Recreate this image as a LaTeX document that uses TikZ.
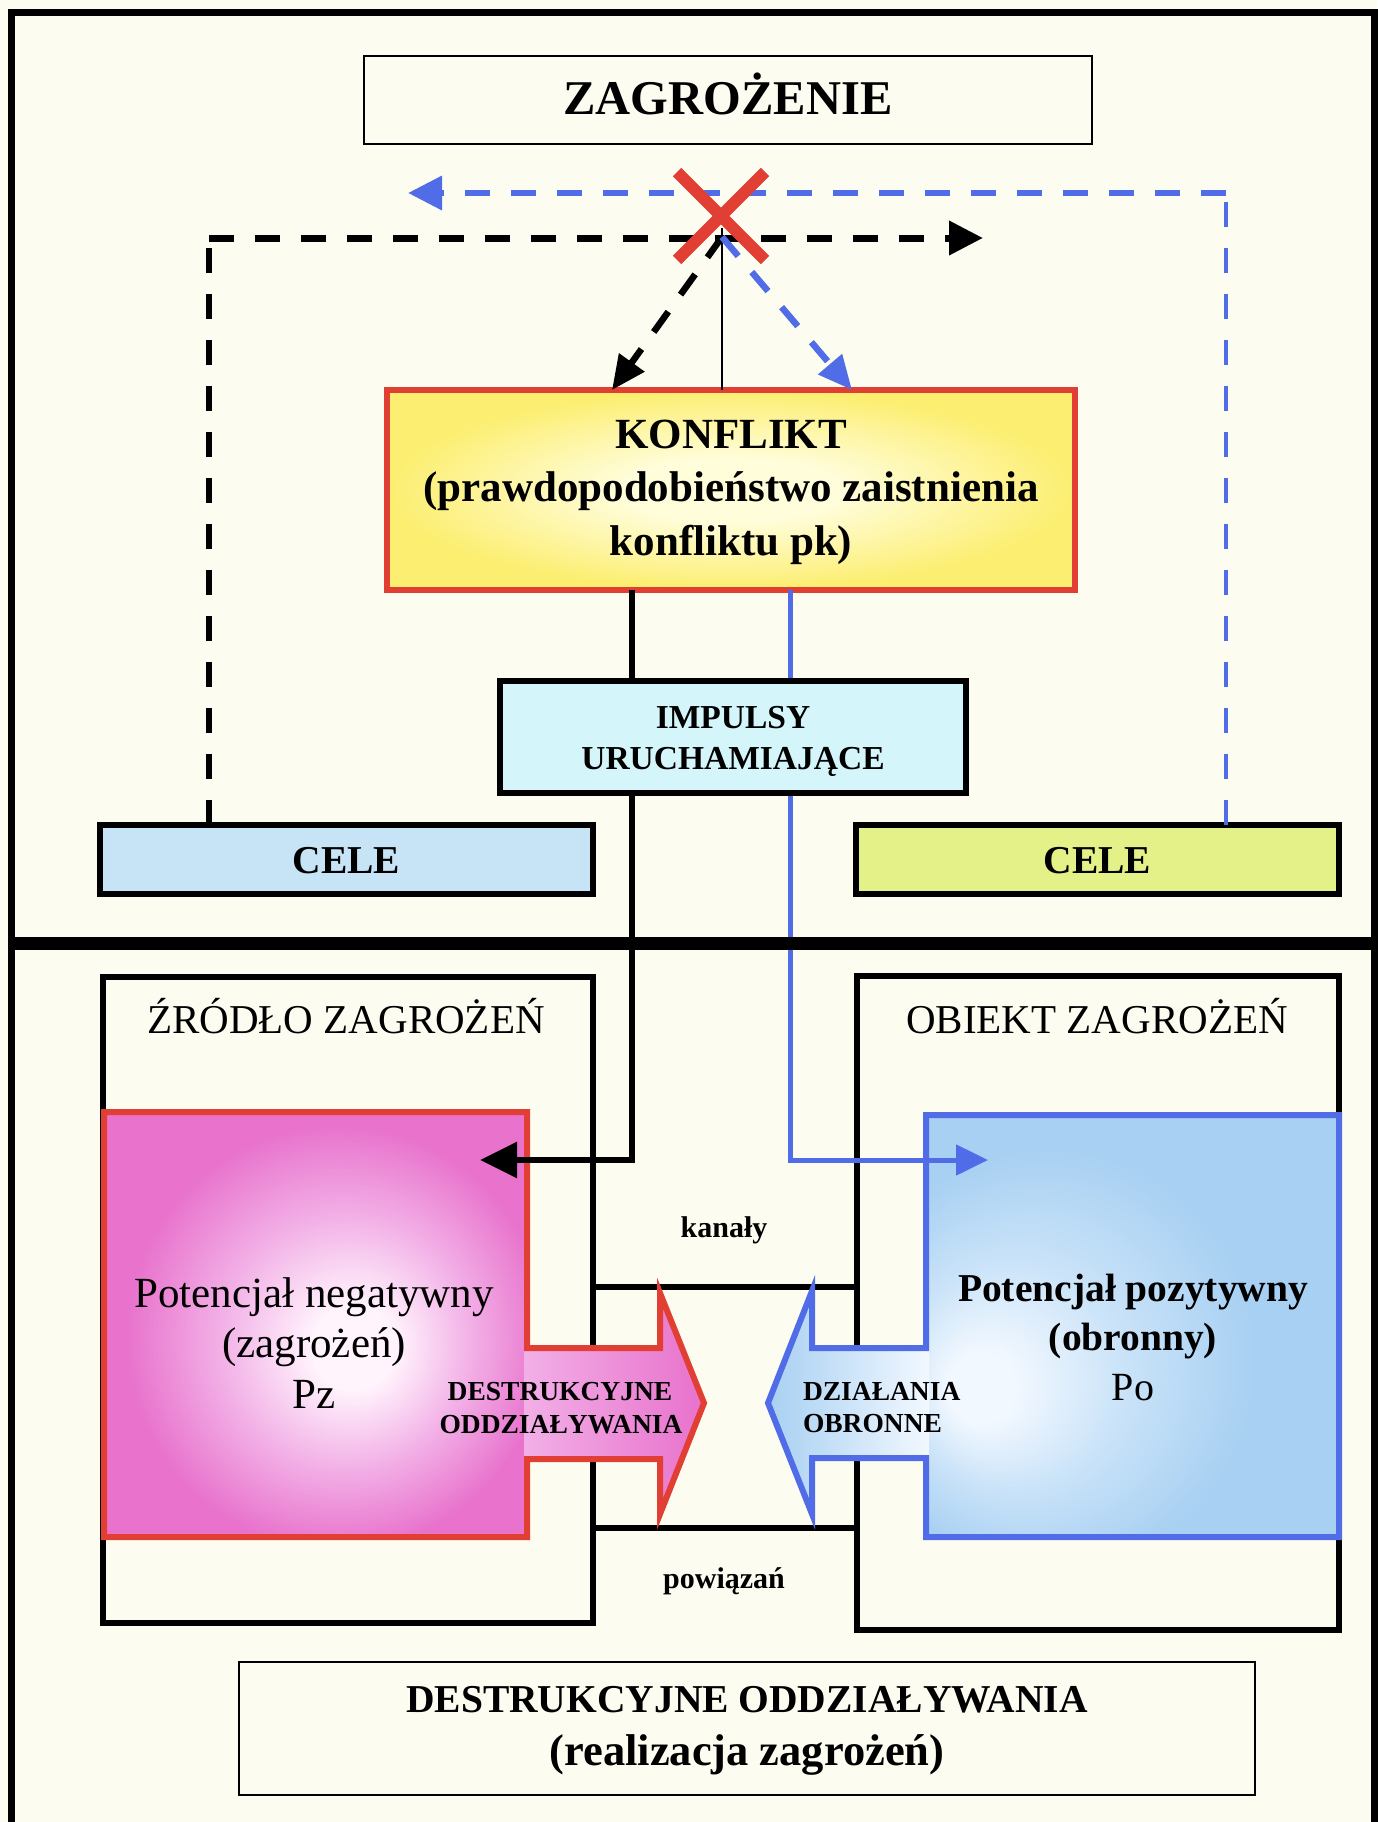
\documentclass[tikz,border=0pt]{standalone}
\usepackage{fontspec}
\setmainfont{Liberation Serif}
\usetikzlibrary{arrows.meta}
\definecolor{bgc}{RGB}{252,252,240}
\definecolor{redc}{RGB}{225,62,52}
\definecolor{bluec}{RGB}{80,108,230}
\definecolor{pinkE}{RGB}{232,114,204}
\definecolor{pinkM}{RGB}{242,175,230}
\definecolor{pinkC}{RGB}{255,243,252}
\definecolor{blueE}{RGB}{168,208,242}
\definecolor{blueM}{RGB}{200,226,248}
\definecolor{blueC}{RGB}{242,248,255}
\definecolor{yelE}{RGB}{252,238,112}
\definecolor{yelC}{RGB}{255,253,218}
\definecolor{impc}{RGB}{212,245,249}
\definecolor{celeLc}{RGB}{198,228,246}
\definecolor{celeRc}{RGB}{228,240,136}
\pgfdeclareradialshading{pinkrad}{\pgfpoint{5bp}{-3bp}}{color(0bp)=(pinkC); color(5bp)=(pinkC); color(15bp)=(pinkM); color(25bp)=(pinkE); color(50bp)=(pinkE)}
\pgfdeclareradialshading{bluerad}{\pgfpoint{-20bp}{-8bp}}{color(0bp)=(blueC); color(4bp)=(blueC); color(14bp)=(blueM); color(25bp)=(blueE); color(50bp)=(blueE)}
\pgfdeclareradialshading{yelrad}{\pgfpoint{0bp}{0bp}}{color(0bp)=(yelC); color(8bp)=(yelC); color(25bp)=(yelE); color(50bp)=(yelE)}
\newcommand\myfs[2]{\fontsize{#1}{#2}\selectfont}
\begin{document}
\begin{tikzpicture}[x=1pt,y=-1pt,
  box/.style={inner sep=0pt, outer sep=0pt},
  txt/.style={anchor=base, inner sep=0pt, outer sep=0pt, text=black},
  bigbold/.style={font=\bfseries\myfs{43}{50}},
  bdash/.style={draw=black, dash pattern=on 25pt off 21pt},
  ldash/.style={draw=bluec, dash pattern=on 25pt off 21pt},
  tiph/.style={-{Triangle[length=34pt,width=33pt]}},
  tipd/.style={-{Triangle[length=34pt,width=30pt]}},
  chan/.style={draw=black, line width=6pt},
]
\useasboundingbox (0,0) rectangle (1377,1822);
\fill[bgc] (0,0) rectangle (1377,1822);

% lower part: outer boxes and channel
\node[box, draw=black, line width=6.5pt, minimum width=490pt, minimum height=646pt] (zrodlo) at (348,1300) {};
\node[box, draw=black, line width=6.5pt, minimum width=482pt, minimum height=654pt] (obiekt) at (1098,1303) {};
\draw[chan] (zrodlo.east |- 0,1287) -- (obiekt.west |- 0,1287);
\draw[chan] (zrodlo.east |- 0,1528) -- (obiekt.west |- 0,1528);
\node[txt, font=\myfs{41}{46}] (tzrodlo) at (346,1033) {ŹRÓDŁO ZAGROŻEŃ};
\node[txt, font=\myfs{41}{46}] (tobiekt) at (1097,1033) {OBIEKT ZAGROŻEŃ};
\node[txt, font=\bfseries\myfs{30}{34}] (tkanaly) at (724,1237) {kanały};
\node[txt, font=\bfseries\myfs{30}{34}] (tpowiazan) at (724,1588) {powiązań};

% pink shape (negative potential) with arrow
\fill[pinkE] (104,1112) -- (527,1112) -- (527,1348) -- (660,1348) -- (660,1293) -- (704,1403) -- (660,1514) -- (660,1459) -- (527,1459) -- (527,1537) -- (104,1537) -- cycle;
\shade[shading=pinkrad] (104,1112) rectangle (527,1537);
\shade[left color=pinkM, middle color=pinkC, right color=pinkE] (524,1348) -- (660,1348) -- (660,1293) -- (704,1403) -- (660,1514) -- (660,1459) -- (524,1459) -- cycle;
\draw[redc, line width=6pt] (104,1112) -- (527,1112) -- (527,1348) -- (660,1348) -- (660,1293) -- (704,1403) -- (660,1514) -- (660,1459) -- (527,1459) -- (527,1537) -- (104,1537) -- cycle;
\coordinate (pinktip) at (480,1160);

% blue shape (positive potential) with arrow
\fill[blueE] (1339,1115) -- (926,1115) -- (926,1348) -- (812,1348) -- (812,1291) -- (768,1403) -- (812,1514) -- (812,1458) -- (926,1458) -- (926,1537) -- (1339,1537) -- cycle;
\shade[shading=bluerad] (926,1115) rectangle (1339,1537);
\shade[left color=blueE, middle color=blueM, right color=blueC] (929,1348) -- (812,1348) -- (812,1291) -- (768,1403) -- (812,1514) -- (812,1458) -- (929,1458) -- cycle;
\draw[bluec, line width=6pt] (1339,1115) -- (926,1115) -- (926,1348) -- (812,1348) -- (812,1291) -- (768,1403) -- (812,1514) -- (812,1458) -- (926,1458) -- (926,1537) -- (1339,1537) -- cycle;
\coordinate (bluetip) at (988,1160);

\node[txt, font=\myfs{43}{50}] (tneg1) at (314,1307) {Potencjał negatywny};
\node[txt, font=\myfs{43}{50}] (tneg2) at (314,1357) {(zagrożeń)};
\node[txt, font=\myfs{43}{50}] (tneg3) at (314,1408) {Pz};
\node[txt, font=\bfseries\myfs{39.5}{46}] (tpoz1) at (1133,1301) {Potencjał pozytywny};
\node[txt, font=\bfseries\myfs{39.5}{46}] (tpoz2) at (1133,1350) {(obronny)};
\node[txt, font=\myfs{40}{46}] (tpoz3) at (1133,1400) {Po};
\node[txt, font=\bfseries\myfs{27.5}{32}] (tdes1) at (560,1400) {DESTRUKCYJNE};
\node[txt, font=\bfseries\myfs{27.5}{32}] (tdes2) at (561,1433) {ODDZIAŁYWANIA};
\node[txt, anchor=base west, font=\bfseries\myfs{27.5}{32}] (tdzi1) at (803,1400) {DZIAŁANIA};
\node[txt, anchor=base west, font=\bfseries\myfs{27.5}{32}] (tdzi2) at (803,1432) {OBRONNE};

% upper boxes
\node[box, draw=black, line width=2.5pt, fill=bgc, minimum width=728pt, minimum height=88pt] (zag) at (728,100) {};
\node[txt, font=\bfseries\myfs{48.5}{56}] (tzag) at (728,115) {ZAGROŻENIE};
\node[box, draw=redc, line width=6pt, shading=yelrad, minimum width=688pt, minimum height=200pt] (konflikt) at (731,490) {};
\node[txt, bigbold] (tk1) at (731,448) {KONFLIKT};
\node[txt, bigbold] (tk2) at (731,501) {(prawdopodobieństwo zaistnienia};
\node[txt, bigbold] (tk3) at (731,555) {konfliktu pk)};
\node[box, draw=black, line width=6pt, fill=celeLc, minimum width=493pt, minimum height=69pt] (celeL) at (346.5,859.5) {};
\node[box, draw=black, line width=6pt, fill=celeRc, minimum width=483pt, minimum height=69pt] (celeR) at (1097.5,859.5) {};
\node[txt, font=\bfseries\myfs{39.5}{46}] (tceleL) at (346.5,873) {CELE};
\node[txt, font=\bfseries\myfs{39.5}{46}] (tceleR) at (1097.5,873) {CELE};
\node[box, draw=black, line width=2.5pt, fill=bgc, minimum width=1016pt, minimum height=133pt] (wynik) at (747,1728.5) {};
\node[txt, font=\bfseries\myfs{39.5}{44}] (tw1) at (747,1712) {DESTRUKCYJNE ODDZIAŁYWANIA};
\node[txt, font=\bfseries\myfs{44.5}{52}] (tw2) at (747,1765) {(realizacja zagrożeń)};

% top dashed feedback connectors
\coordinate (hub) at (722,237);
\coordinate (bcorner) at (1226,193);
\coordinate (btip) at (408,193);
\coordinate (kcorner) at (209,238);
\coordinate (ktip) at (983,238);
\draw[ldash, line width=4pt] (celeR.north -| bcorner) -- (bcorner |- 0,200);
\draw[ldash, line width=6.5pt, tiph] (bcorner) -- (btip);
\draw[bdash, line width=6pt] (celeL.north -| kcorner) -- (kcorner |- 0,244);
\draw[bdash, line width=7pt, tiph] (kcorner) -- (ktip);
\draw[redc, line width=12pt] (677,172) -- (765,260) (765,172) -- (677,260);
\draw[black, line width=2.5pt] (722,228) -- (konflikt.north -| hub);
\draw[bdash, line width=6.5pt, tipd] (hub) -- (konflikt.north -| 612,0);
\draw[ldash, line width=6.5pt, tipd] (hub) -- (konflikt.north -| 852,0);

% impulses
\draw[bluec, line width=5pt] (konflikt.south -| 790,0) -- (790,1160);
\node[box, draw=black, line width=5.5pt, fill=impc, minimum width=466pt, minimum height=112pt] (impulsy) at (733,737) {};
\node[txt, font=\bfseries\myfs{33.5}{38}] (ti1) at (733,728) {IMPULSY};
\node[txt, font=\bfseries\myfs{33.5}{38}] (ti2) at (733,769) {URUCHAMIAJĄCE};
\draw[bluec, line width=5pt, -{Triangle[length=32pt,width=30pt]}] (787.5,1160) -- (bluetip);
\draw[black, line width=6pt] (konflikt.south -| 632,0) -- (impulsy.north -| 632,0);
\draw[black, line width=6pt, -{Triangle[length=37pt,width=35pt]}] (impulsy.south -| 632,0) -- (632,1160) -- (pinktip);

% divider and frame
\draw[black, line width=13pt] (11,943) -- (1374,943);
\draw[black, line width=7pt] (11,1830) -- (11,13) -- (1374,13) -- (1374,1830);
\end{tikzpicture}
\end{document}
